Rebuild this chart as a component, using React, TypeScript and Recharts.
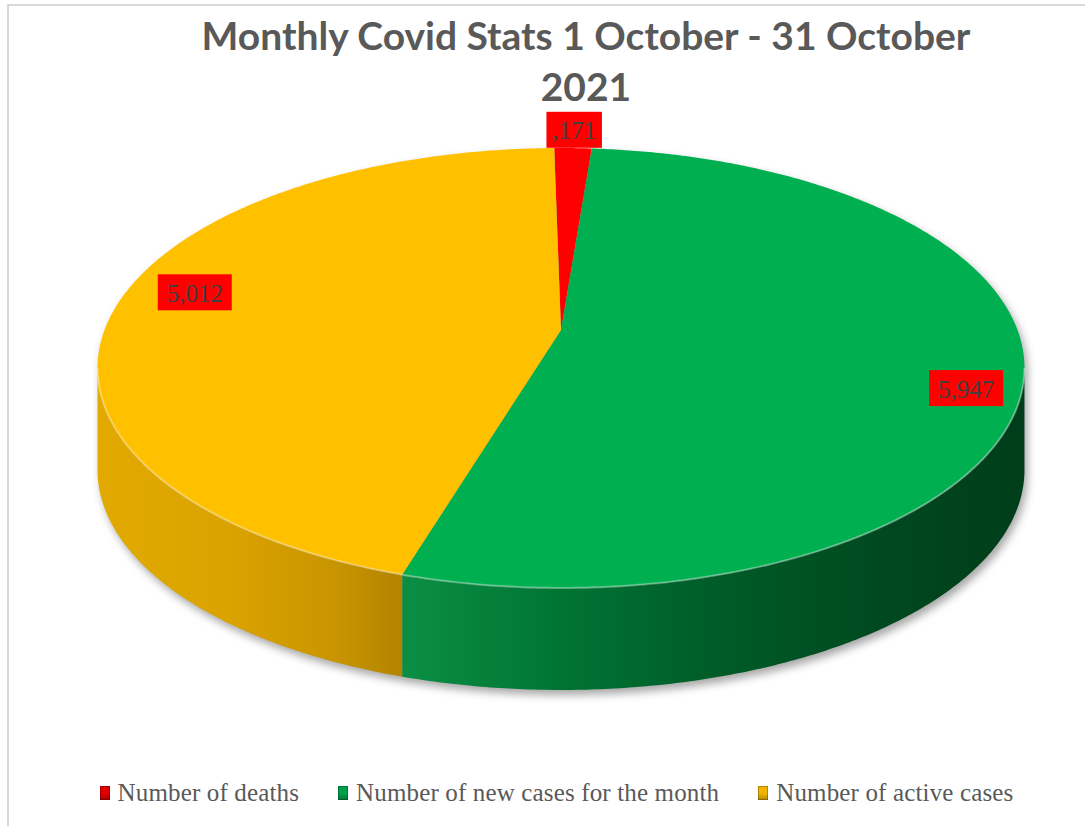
import React from "react";
import { PieChart, Pie, Legend, Tooltip } from "recharts";

// ---------- data ----------
const categories = [
  "Number of deaths",
  "Number of new cases for the month",
  "Number of active cases",
];
const values = [171, 5947, 5012];
const labelTexts = [",171", "5,947", "5,012"];
const topColors = ["#FF0000", "#00B050", "#FFC000"];
const legendColors = ["#E00000", "#00A04A", "#F0B400"];

// ---------- style constants ----------
const W = 1085;
const H = 826;
const PERSP = 0.1727; // perspective strength
const SQUASH = 0.4675; // vertical squash of the disc
const DEPTH = 102; // thickness of the disc in px
const VIS0 = 90 + (Math.asin(PERSP) * 180) / Math.PI;
const VIS1 = 270 - (Math.asin(PERSP) * 180) / Math.PI;
const LABEL_SHIFT = 5.5;
const INNER_LABEL_NUDGE = [7, 4];

const sideStops: [number, string][][] = [
  [
    [0, "#C00000"],
    [1, "#7A0000"],
  ],
  [
    [0, "#10A050"],
    [0.33, "#0B8E44"],
    [0.5, "#007433"],
    [0.68, "#005A27"],
    [0.85, "#00481F"],
    [1, "#003D1A"],
  ],
  [
    [0, "#E2AA00"],
    [0.15, "#D9A200"],
    [0.26, "#C89400"],
    [0.33, "#B38300"],
    [1, "#8A6400"],
  ],
];

const data = categories.map((name, i) => ({
  name,
  value: values[i],
  fill: topColors[i],
  idx: i,
}));

function project(cx: number, cy: number, R: number, thetaDeg: number, f: number) {
  const t = (thetaDeg * Math.PI) / 180;
  const X = f * Math.sin(t);
  const Z = -f * Math.cos(t);
  const w = 1 - PERSP * Z;
  return [cx + (R * X) / w, cy + (R * SQUASH * Z) / w];
}

function arcPts(cx: number, cy: number, R: number, a: number, b: number, dy = 0) {
  const n = Math.max(2, Math.ceil(Math.abs(b - a) / 0.5));
  const pts: string[] = [];
  for (let i = 0; i <= n; i++) {
    const t = a + ((b - a) * i) / n;
    const [x, y] = project(cx, cy, R, t, 1);
    pts.push(`${x.toFixed(2)},${(y + dy).toFixed(2)}`);
  }
  return pts;
}

const Slice3D = (props: any) => {
  const { cx, cy, outerRadius, startAngle, endAngle } = props;
  const idx: number = props.payload?.idx ?? props.idx ?? props.index ?? 0;
  const R = outerRadius;
  const t0 = 90 - Math.max(startAngle, endAngle);
  const t1 = 90 - Math.min(startAngle, endAngle);

  const topPts = arcPts(cx, cy, R, t0, t1);
  const topPath = `M ${cx},${cy} L ${topPts.join(" L ")} Z`;

  const sides: string[] = [];
  const rims: string[] = [];
  for (let k = -1; k <= 1; k++) {
    const lo = Math.max(t0, VIS0 + 360 * k);
    const hi = Math.min(t1, VIS1 + 360 * k);
    if (hi > lo) {
      const up = arcPts(cx, cy, R, lo, hi);
      const down = arcPts(cx, cy, R, hi, lo, DEPTH);
      sides.push(`M ${up.join(" L ")} L ${down.join(" L ")} Z`);
      rims.push(`M ${up.join(" L ")}`);
    }
  }

  const gid = `side-grad-${idx}`;
  let shadow: React.ReactNode = null;
  if (idx === 0) {
    const back = arcPts(cx, cy, R, VIS1, VIS0 + 360);
    const front = arcPts(cx, cy, R, VIS0, VIS1, DEPTH);
    shadow = (
      <path
        d={`M ${back.join(" L ")} L ${front.join(" L ")} Z`}
        fill="#000"
        fillOpacity={0.35}
        transform="translate(3,5)"
        filter="url(#pie-shadow)"
      />
    );
  }

  return (
    <g>
      <defs>
        <linearGradient id={gid} gradientUnits="userSpaceOnUse" x1={cx - R * 1.016} x2={cx + R * 1.016} y1={0} y2={0}>
          {sideStops[idx].map(([o, c], j) => (
            <stop key={j} offset={o} stopColor={c} />
          ))}
        </linearGradient>
        {idx === 0 && (
          <filter id="pie-shadow" x="-10%" y="-10%" width="120%" height="130%">
            <feGaussianBlur stdDeviation="4" />
          </filter>
        )}
      </defs>
      {shadow}
      {sides.map((d, j) => (
        <path key={`s${j}`} d={d} fill={`url(#${gid})`} stroke="none" />
      ))}
      <path d={topPath} fill={topColors[idx]} stroke="none" />
      {rims.map((d, j) => (
        <path key={`r${j}`} d={d} fill="none" stroke="#ffffff" strokeOpacity={0.35} strokeWidth={2} />
      ))}
    </g>
  );
};

const renderLabel = (props: any) => {
  const { cx, cy, outerRadius, midAngle, percent, index } = props;
  const small = percent < 0.05;
  const theta = 90 - midAngle + (small ? 0 : LABEL_SHIFT);
  const f = small ? 1.12 : 0.87;
  const [px, py] = project(cx, cy, outerRadius, theta, f);
  const x = px + (small ? 0 : INNER_LABEL_NUDGE[0]);
  const y = py + (small ? 0 : INNER_LABEL_NUDGE[1]);
  const text = labelTexts[index];
  const tw = text.replace(/,/g, "").length * 12.5 + (text.match(/,/g) || []).length * 6;
  const pad = small ? 6 : 9;
  const bw = tw + pad * 2;
  const bh = 36;
  return (
    <g>
      <rect x={x - bw / 2} y={y - bh / 2} width={bw} height={bh} fill="#FF0000" />
      <text
        x={x}
        y={y + 1}
        textAnchor="middle"
        dominantBaseline="central"
        fontFamily="'Liberation Serif', 'DejaVu Serif', serif"
        fontSize={25}
        fill="#404040"
      >
        {text}
      </text>
    </g>
  );
};

const renderLegend = (props: any) => {
  const payload: any[] = props.payload || [];
  const base = payload.length ? payload : categories.map((c) => ({ value: c }));
  const items = [...base].sort(
    (a, b) => categories.indexOf(a.value) - categories.indexOf(b.value)
  );
  return (
    <div
      style={{
        display: "flex",
        justifyContent: "center",
        alignItems: "center",
        height: 28,
        fontFamily: "'Liberation Serif', serif",
        fontSize: 25,
        letterSpacing: 0.15,
        color: "#595959",
        whiteSpace: "nowrap",
      }}
    >
      {items.map((it, i) => {
        const ci = categories.indexOf(it.value);
        const c = legendColors[ci >= 0 ? ci : i];
        return (
          <div
            key={i}
            style={{ display: "flex", alignItems: "center", marginRight: i < items.length - 1 ? 39 : 0 }}
          >
            <div
              style={{
                width: 10,
                height: 14,
                marginRight: 8,
                background: `linear-gradient(180deg, ${c} 0%, ${c} 55%, rgba(0,0,0,0.25) 100%), ${c}`,
                boxShadow: "inset 0 0 0 1px rgba(0,0,0,0.25)",
              }}
            />
            <span>{it.value}</span>
          </div>
        );
      })}
    </div>
  );
};

export default function App() {
  return (
    <div
      style={{
        position: "absolute",
        left: 0,
        top: 0,
        width: W,
        height: H,
        overflow: "hidden",
        background: "#ffffff",
      }}
    >
      <div
        style={{
          position: "absolute",
          left: 7,
          top: 4,
          right: 0,
          bottom: 0,
          borderTop: "2px solid #D9D9D9",
          borderLeft: "2px solid #D9D9D9",
        }}
      />
      <div style={{ position: "absolute", left: 0, top: 0 }}>
        <PieChart width={W} height={H} margin={{ top: 0, right: 0, bottom: 0, left: 0 }}>
          <Tooltip defaultIndex={0} content={() => null} cursor={false} />
          <Pie
            data={data}
            dataKey="value"
            nameKey="name"
            cx={561}
            cy={330}
            outerRadius={456.5}
            startAngle={91}
            endAngle={-269}
            stroke="none"
            isAnimationActive={false}
            labelLine={false}
            label={renderLabel}
            shape={Slice3D}
            activeShape={Slice3D}
            inactiveShape={Slice3D}
          />
          <Legend
            verticalAlign="bottom"
            align="center"
            content={renderLegend}
            wrapperStyle={{ bottom: 19, left: 14, width: W }}
          />
        </PieChart>
      </div>
      <div
        style={{
          position: "absolute",
          left: 86,
          top: 10,
          width: 1000,
          textAlign: "center",
          fontFamily: "Lato, 'Open Sans', sans-serif",
          fontWeight: 700,
          fontSize: 39,
          lineHeight: "51px",
          color: "#595959",
        }}
      >
        Monthly Covid Stats 1 October - 31 October
        <br />
        2021
      </div>
    </div>
  );
}
